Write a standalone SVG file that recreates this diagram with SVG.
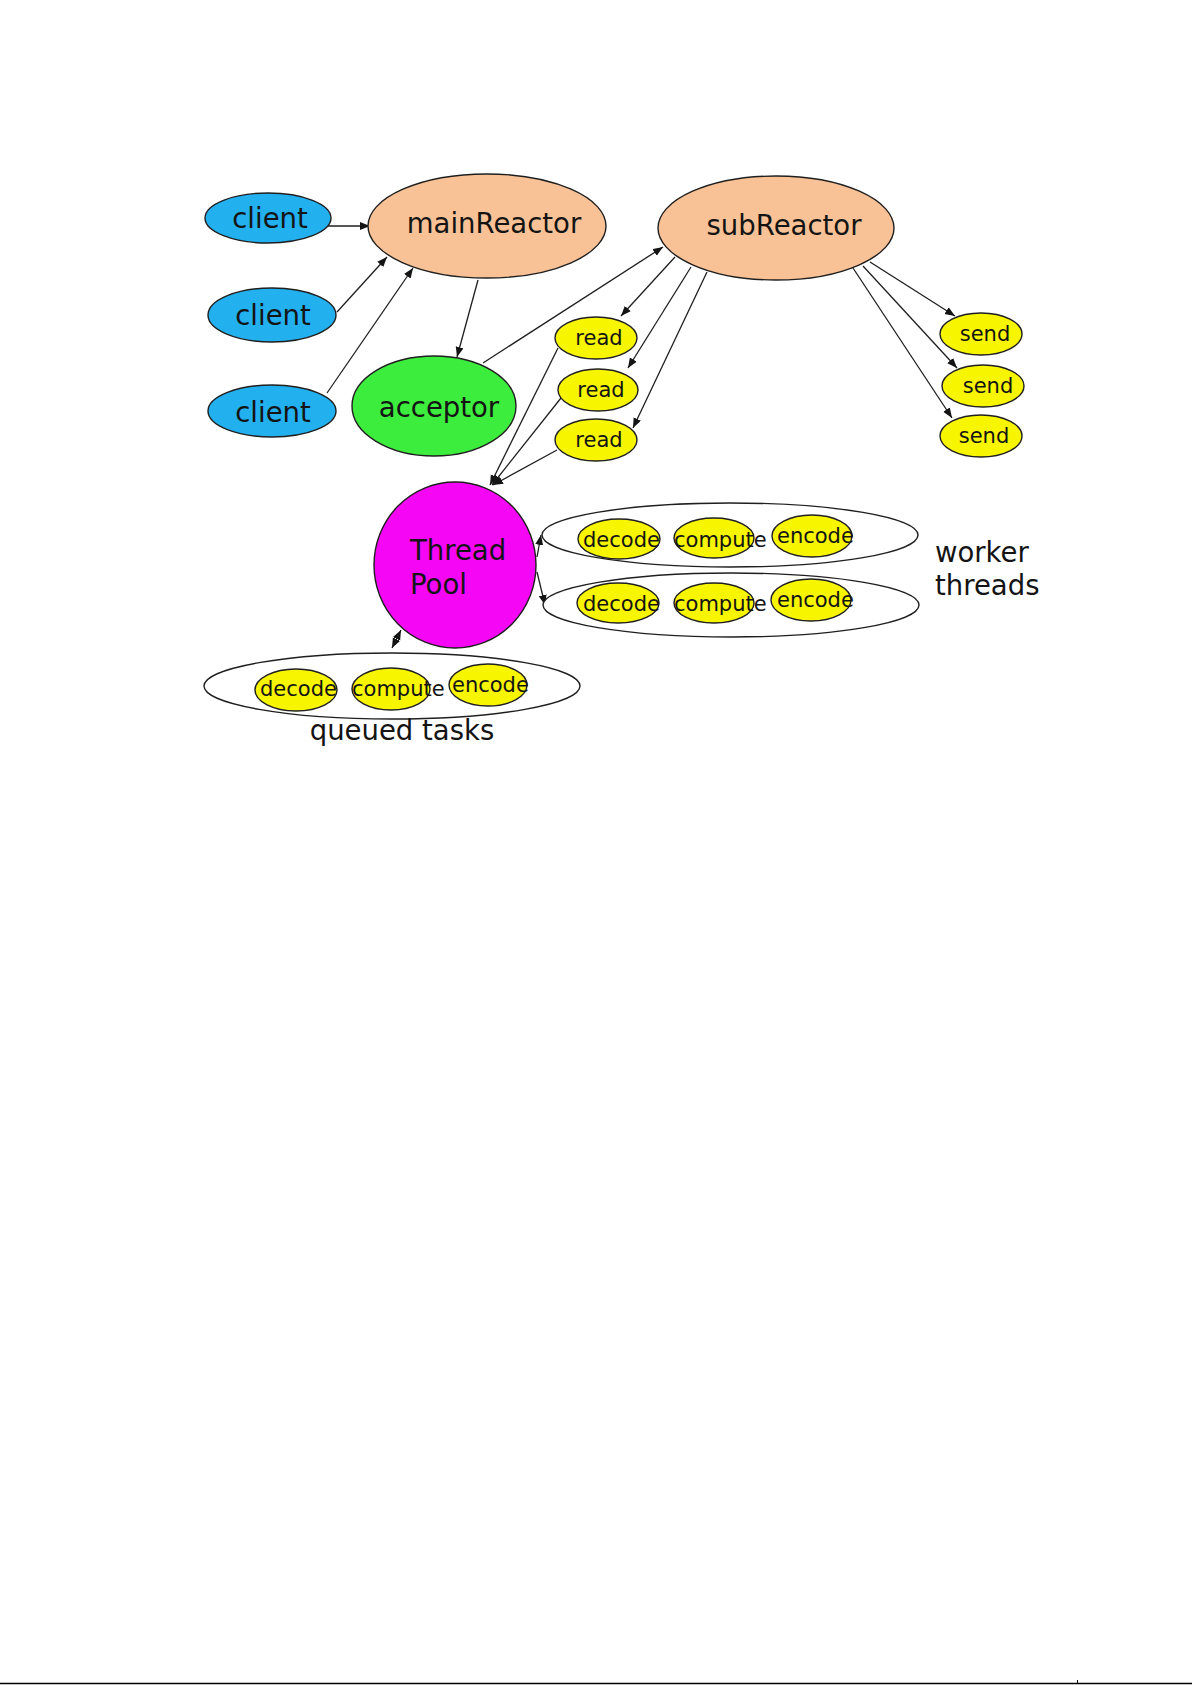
<svg xmlns="http://www.w3.org/2000/svg" width="1192" height="1685" viewBox="0 0 1192 1685">
<style>
  .n { stroke:#1f1f1f; stroke-width:1.4; }
  .client { fill:#22b0ef; }
  .reactor { fill:#f9c296; }
  .acc { fill:#3ded3d; }
  .pool { fill:#f506f5; }
  .y { fill:#f7f500; }
  .grp { fill:#ffffff; stroke:#1f1f1f; stroke-width:1.4; }
  .big { font-family:"DejaVu Sans", Verdana, sans-serif; font-size:27.5px; fill:#141414; }
  .sm { font-family:"DejaVu Sans", Verdana, sans-serif; font-size:21px; fill:#141414; }
  .c { text-anchor:middle; }
  .e { stroke:#1f1f1f; stroke-width:1.3; fill:none; marker-end:url(#ah); }
</style>
<defs>
  <marker id="ah" markerUnits="userSpaceOnUse" markerWidth="12" markerHeight="9" refX="10" refY="4" orient="auto">
    <path d="M0,0 L10,4 L0,8 z" fill="#141414"/>
  </marker>
  <marker id="ahs" markerUnits="userSpaceOnUse" markerWidth="12" markerHeight="9" refX="10" refY="4" orient="auto-start-reverse">
    <path d="M0,0 L10,4 L0,8 z" fill="#141414"/>
  </marker>
</defs>
<rect x="0" y="0" width="1192" height="1685" fill="#ffffff"/>

<g id="connectors">
  <line class="e" x1="327" y1="226" x2="370" y2="226"/>
  <line class="e" x1="337" y1="312" x2="387" y2="257"/>
  <line class="e" x1="327" y1="393" x2="413" y2="268"/>
  <line class="e" x1="478" y1="280" x2="457" y2="357"/>
  <line class="e" x1="483" y1="363" x2="663" y2="247"/>
  <line class="e" x1="675" y1="257" x2="621" y2="316"/>
  <line class="e" x1="691" y1="267" x2="628" y2="368"/>
  <line class="e" x1="707" y1="272" x2="633" y2="428"/>
  <line class="e" x1="870" y1="262" x2="955" y2="316"/>
  <line class="e" x1="863" y1="266" x2="957" y2="368"/>
  <line class="e" x1="853" y1="268" x2="952" y2="418"/>
  <line class="e" x1="558" y1="348" x2="490" y2="485"/>
  <line class="e" x1="561" y1="398" x2="492" y2="485"/>
  <line class="e" x1="557" y1="450" x2="493" y2="485"/>
  <line class="e" x1="537" y1="557" x2="541" y2="535"/>
  <line class="e" x1="537" y1="572" x2="545" y2="605"/>
  <line class="e" x1="392" y1="648" x2="401" y2="630" style="marker-start:url(#ahs)"/>
</g>

<g id="client1"><ellipse class="n client" cx="268" cy="218" rx="63" ry="25"/><text class="big c" x="270" y="228">client</text></g>
<g id="client2"><ellipse class="n client" cx="272" cy="315" rx="64" ry="27"/><text class="big c" x="273" y="325">client</text></g>
<g id="client3"><ellipse class="n client" cx="272" cy="411" rx="64" ry="26"/><text class="big c" x="273" y="422">client</text></g>

<g id="mainReactor"><ellipse class="n reactor" cx="487" cy="226" rx="119" ry="52"/><text class="big c" x="494" y="233">mainReactor</text></g>
<g id="subReactor"><ellipse class="n reactor" cx="776" cy="228" rx="118" ry="52"/><text class="big c" x="784" y="235">subReactor</text></g>
<g id="acceptor"><ellipse class="n acc" cx="434" cy="406" rx="82" ry="50"/><text class="big c" x="439" y="417">acceptor</text></g>

<g id="read1"><ellipse class="n y" cx="596" cy="338" rx="41" ry="21"/><text class="sm c" x="599" y="345">read</text></g>
<g id="read2"><ellipse class="n y" cx="598" cy="390" rx="40" ry="21"/><text class="sm c" x="601" y="397">read</text></g>
<g id="read3"><ellipse class="n y" cx="596" cy="440" rx="41" ry="21"/><text class="sm c" x="599" y="447">read</text></g>

<g id="send1"><ellipse class="n y" cx="981" cy="334" rx="41" ry="21"/><text class="sm c" x="985" y="341">send</text></g>
<g id="send2"><ellipse class="n y" cx="983" cy="386" rx="41" ry="21"/><text class="sm c" x="988" y="393">send</text></g>
<g id="send3"><ellipse class="n y" cx="981" cy="436" rx="41" ry="21"/><text class="sm c" x="984" y="443">send</text></g>

<g id="threadPool"><ellipse class="n pool" cx="455" cy="565" rx="81" ry="83"/><text class="big" x="410" y="560">Thread</text><text class="big" x="410" y="594">Pool</text></g>

<g id="worker1">
  <ellipse class="grp" cx="730" cy="535" rx="188" ry="32"/>
  <ellipse class="n y" cx="619" cy="539" rx="41" ry="20"/>
  <ellipse class="n y" cx="714" cy="538" rx="40" ry="20"/>
  <ellipse class="n y" cx="812" cy="536" rx="40" ry="21"/>
  <text class="sm" x="583" y="547">decode</text>
  <text class="sm" x="674" y="547">compute</text>
  <text class="sm" x="777" y="543">encode</text>
</g>
<g id="worker2">
  <ellipse class="grp" cx="731" cy="605" rx="188" ry="32"/>
  <ellipse class="n y" cx="618" cy="603" rx="41" ry="20"/>
  <ellipse class="n y" cx="714" cy="603" rx="40" ry="20"/>
  <ellipse class="n y" cx="811" cy="600" rx="40" ry="21"/>
  <text class="sm" x="583" y="611">decode</text>
  <text class="sm" x="674" y="611">compute</text>
  <text class="sm" x="777" y="607">encode</text>
</g>
<g id="workerLabel"><text class="big" x="935" y="562">worker</text><text class="big" x="935" y="595">threads</text></g>

<g id="queued">
  <ellipse class="grp" cx="392" cy="686" rx="188" ry="33"/>
  <ellipse class="n y" cx="296" cy="690" rx="41" ry="21"/>
  <ellipse class="n y" cx="391" cy="689" rx="39" ry="21"/>
  <ellipse class="n y" cx="488" cy="685" rx="39" ry="21"/>
  <text class="sm" x="260" y="696">decode</text>
  <text class="sm" x="352" y="696">compute</text>
  <text class="sm" x="452" y="692">encode</text>
</g>
<g id="queuedLabel"><text class="big c" x="402" y="740">queued tasks</text></g>

<g id="pageEdge">
  <line x1="0" y1="1683.5" x2="1192" y2="1683.5" stroke="#000" stroke-width="1.5"/>
  <line x1="1077.5" y1="1680" x2="1077.5" y2="1684" stroke="#000" stroke-width="1"/>
</g>
</svg>
